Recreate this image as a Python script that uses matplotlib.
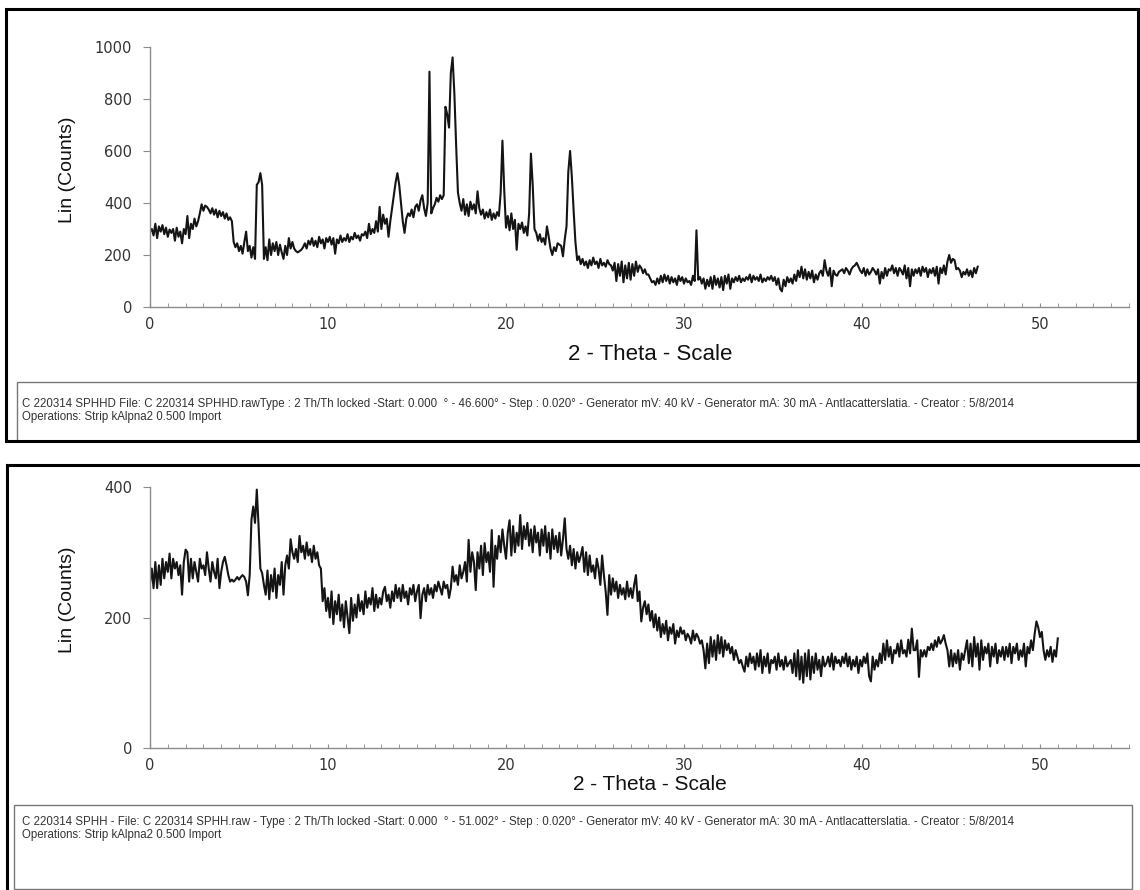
import matplotlib
matplotlib.use("Agg")
import matplotlib.pyplot as plt
import numpy as np
from matplotlib.lines import Line2D
from matplotlib.patches import Rectangle
from matplotlib.ticker import MultipleLocator

plt.rcParams["font.family"] = ["Liberation Sans", "DejaVu Sans"]

W, H = 1140, 890
THETA_STEP = 0.1

# SPHHD scan, counts every 0.1 deg starting at 0 (one row per degree)
sphhd_counts = [
    290, 300, 275, 320, 265, 310, 290, 315, 280, 305,
    270, 298, 285, 300, 255, 305, 270, 290, 245, 300,
    280, 350, 265, 320, 300, 340, 310, 330, 360, 395,
    370, 390, 385, 375, 360, 380, 355, 375, 345, 370,
    350, 365, 340, 360, 335, 345, 330, 250, 230, 245,
    215, 235, 205, 250, 290, 215, 235, 190, 230, 185,
    470, 480, 515, 470, 185, 230, 180, 260, 200, 245,
    215, 250, 200, 240, 210, 185, 235, 200, 265, 225,
    250, 225, 215, 210, 215, 220, 230, 245, 225, 255,
    240, 265, 235, 255, 230, 270, 245, 260, 225, 265,
    250, 270, 240, 265, 205, 260, 245, 275, 250, 265,
    255, 280, 250, 270, 260, 285, 265, 275, 255, 280,
    275, 290, 265, 320, 280, 300, 285, 330, 290, 385,
    300, 355, 320, 340, 270, 330, 380, 430, 480, 515,
    470, 400, 330, 285, 340, 360, 350, 375, 345, 385,
    395, 370, 410, 430, 380, 350, 400, 905, 360, 380,
    395, 420, 405, 430, 415, 430, 770, 740, 690, 900,
    960, 820, 620, 440, 400, 370, 415, 355, 395, 350,
    405, 375, 395, 360, 445, 380, 355, 375, 340, 365,
    345, 375, 335, 360, 340, 365, 350, 440, 640, 450,
    305, 350, 295, 360, 300, 335, 220, 320, 300, 325,
    285, 310, 275, 360, 590, 470, 300, 285, 255, 280,
    250, 265, 240, 310, 270, 225, 200, 230, 215, 245,
    240, 235, 195, 260, 310, 520, 600, 500, 370, 250,
    180, 195, 165, 185, 160, 175, 150, 180, 160, 190,
    165, 175, 150, 185, 160, 170, 155, 180, 165, 160,
    140, 170, 100, 165, 120, 175, 95, 160, 110, 170,
    105, 165, 120, 175, 135, 160, 150, 130, 145, 125,
    125, 110, 95, 100, 85, 110, 90, 120, 95, 125,
    100, 120, 90, 115, 95, 110, 85, 120, 100, 115,
    90, 110, 95, 100, 85, 120, 100, 295, 105, 115,
    90, 110, 70, 105, 80, 115, 70, 120, 85, 110,
    75, 115, 65, 120, 90, 125, 70, 110, 95, 115,
    100, 120, 95, 110, 100, 115, 105, 125, 95, 120,
    105, 115, 100, 125, 95, 110, 100, 115, 105, 120,
    100, 115, 85, 110, 70, 60, 105, 80, 115, 95,
    110, 90, 125, 100, 140, 115, 155, 110, 145, 105,
    135, 110, 140, 95, 125, 105, 130, 140, 120, 180,
    140, 120, 150, 80, 140, 125, 120, 135, 140, 145,
    130, 150, 140, 125, 145, 155, 160, 170, 155, 140,
    130, 150, 120, 145, 125, 135, 150, 140, 125, 145,
    90, 135, 110, 150, 120, 145, 140, 160, 130, 150,
    120, 150, 140, 125, 160, 110, 150, 80, 145, 120,
    145, 130, 150, 120, 155, 135, 150, 115, 145, 130,
    150, 120, 155, 90, 150, 130, 160, 125, 175, 200,
    170, 185, 180, 145, 150, 140, 115, 135, 125, 145,
    120, 140, 115, 150, 130, 155,
]

# SPHH scan, counts every 0.1 deg starting at 0 (one row per degree)
sphh_counts = [
    252, 275, 245, 285, 245, 280, 250, 290, 260, 285,
    270, 298, 260, 290, 275, 285, 265, 280, 235, 285,
    304, 300, 255, 290, 260, 285, 270, 255, 290, 275,
    280, 265, 300, 275, 255, 285, 270, 260, 290, 245,
    270, 285, 293, 280, 265, 255, 258, 255, 258, 262,
    258, 262, 265, 262, 255, 234, 265, 350, 370, 345,
    396, 340, 275, 268, 250, 235, 272, 228, 265, 240,
    275, 230, 265, 250, 285, 235, 280, 295, 275, 320,
    300, 290, 305, 285, 325, 300, 310, 290, 315, 295,
    305, 285, 310, 290, 300, 280, 275, 225, 245, 210,
    230, 200, 240, 190, 225, 205, 235, 195, 220, 185,
    225, 200, 176, 230, 195, 220, 200, 235, 210, 225,
    205, 240, 215, 230, 220, 245, 210, 235, 215, 230,
    220, 240, 247, 225, 235, 215, 240, 225, 250, 230,
    245, 225, 250, 230, 240, 220, 245, 235, 250, 225,
    240, 250, 199, 235, 245, 225, 250, 235, 245, 230,
    250, 240, 255, 245, 235, 255, 245, 250, 230, 245,
    278, 255, 265, 250, 280, 260, 270, 285, 255, 319,
    270, 300, 285, 242, 300, 275, 310, 265, 314, 285,
    300, 270, 334, 247, 310, 290, 325, 300, 335, 310,
    290, 330, 349, 295, 340, 300, 330, 310, 357, 305,
    340, 320, 345, 310, 335, 300, 340, 315, 330, 295,
    335, 310, 340, 300, 330, 290, 335, 305, 325, 300,
    330, 295, 320, 352, 305, 290, 310, 280, 305, 275,
    300, 285, 295, 308, 270, 300, 265, 295, 270, 280,
    260, 290, 275, 250, 295, 265, 240, 204, 265, 235,
    260, 240, 255, 230, 250, 235, 245, 228, 255, 232,
    245, 230, 250, 265, 225, 240, 194, 215, 225, 205,
    220, 195, 210, 185, 205, 180, 200, 170, 190, 175,
    195, 165, 185, 175, 190, 160, 180, 170, 185, 175,
    180, 165, 175, 170, 160, 180, 165, 175, 170, 160,
    165, 150, 122, 160, 130, 170, 140, 165, 135, 173,
    145, 170, 140, 165, 150, 160, 145, 155, 135, 150,
    140, 130, 135, 125, 117, 140, 125, 145, 130, 140,
    120, 145, 125, 150, 115, 140, 125, 145, 115, 135,
    130, 140, 120, 145, 125, 135, 120, 140, 125, 130,
    135, 115, 145, 110, 150, 105, 140, 100, 145, 110,
    150, 105, 140, 115, 145, 120, 135, 110, 140, 125,
    130, 140, 125, 145, 120, 140, 130, 135, 125, 140,
    130, 145, 125, 140, 120, 135, 125, 140, 115, 135,
    125, 140, 130, 145, 110, 102, 140, 120, 135, 125,
    145, 130, 160, 135, 165, 140, 155, 130, 150, 145,
    160, 140, 165, 145, 150, 140, 166, 145, 183, 150,
    150, 165, 109, 150, 140, 150, 140, 155, 150, 160,
    150, 165, 155, 170, 160, 165, 173, 160, 150, 125,
    150, 125, 145, 130, 150, 120, 145, 135, 150, 165,
    130, 160, 125, 170, 140, 160, 120, 165, 135, 155,
    145, 160, 125, 155, 140, 160, 130, 150, 140, 155,
    135, 155, 140, 160, 130, 155, 145, 160, 135, 150,
    140, 160, 125, 155, 145, 165, 150, 175, 194, 185,
    170, 178, 150, 135, 150, 140, 155, 132, 150, 140,
    168,
]

top_info = [
    "C 220314 SPHHD File: C 220314 SPHHD.rawType : 2 Th/Th locked -Start: 0.000  \u00b0 - 46.600\u00b0 - Step : 0.020\u00b0"
    " - Generator mV: 40 kV - Generator mA: 30 mA - Antlacatterslatia. - Creator : 5/8/2014",
    "Operations: Strip kAlpna2 0.500 Import",
]
bottom_info = [
    "C 220314 SPHH - File: C 220314 SPHH.raw - Type : 2 Th/Th locked -Start: 0.000  \u00b0 - 51.002\u00b0 - Step : 0.020\u00b0"
    " - Generator mV: 40 kV - Generator mA: 30 mA - Antlacatterslatia. - Creator : 5/8/2014",
    "Operations: Strip kAlpna2 0.500 Import",
]

x_label = "2 - Theta - Scale"
y_label = "Lin (Counts)"
narrow = ["Liberation Sans Narrow", "Liberation Sans", "DejaVu Sans"]


def fbox(left, top, right, bottom):
    # pixel box (origin top-left) -> figure fraction [l, b, w, h]
    return [left / W, 1 - bottom / H, (right - left) / W, (bottom - top) / H]


def fx(px):
    return px / W


def fy(py):
    return 1 - py / H


def draw_scan(fig, box, counts, y_max, y_step):
    ax = fig.add_axes(box)
    theta = np.arange(len(counts)) * THETA_STEP
    ax.plot(theta, counts, color="#141414", linewidth=1.5)
    ax.set_xlim(0, 55)
    ax.set_ylim(0, y_max)
    for side in ["top", "right"]:
        ax.spines[side].set_visible(False)
    for side in ["left", "bottom"]:
        ax.spines[side].set_color("#8c8c8c")
        ax.spines[side].set_linewidth(1.0)
    ax.xaxis.set_major_locator(MultipleLocator(10))
    ax.xaxis.set_minor_locator(MultipleLocator(1))
    ax.yaxis.set_major_locator(MultipleLocator(y_step))
    ax.tick_params(axis="x", which="both", direction="in", length=3, color="#8c8c8c",
                   labelsize=10.5, labelcolor="#333333", pad=7)
    ax.tick_params(axis="y", which="major", direction="out", length=5, color="#8c8c8c",
                   labelsize=10.5, labelcolor="#333333", pad=8)
    for lab in ax.get_xticklabels() + ax.get_yticklabels():
        lab.set_fontfamily("DejaVu Sans")
    ax.patch.set_alpha(0)
    return ax


fig = plt.figure(figsize=(W / 100, H / 100), dpi=100)

# top panel
draw_scan(fig, fbox(150, 47, 150 + 55 * 17.8, 307), sphhd_counts, 1000, 200)
fig.text(fx(68), fy(170), y_label, rotation=90, ha="center", va="center",
         fontsize=14, family=narrow, color="#111111")
fig.text(fx(650), fy(354), x_label, ha="center", va="center",
         fontsize=16, family=narrow, color="#111111")
fig.patches.append(Rectangle((fx(17), fy(441)), fx(1137) - fx(17), fy(382) - fy(441),
                             transform=fig.transFigure, fill=False, edgecolor="#777777", linewidth=1.0))
fig.text(fx(22), fy(404), top_info[0], ha="left", va="center", fontsize=8.3, color="#333333")
fig.text(fx(22), fy(417), top_info[1], ha="left", va="center", fontsize=8.3, color="#333333")
fig.patches.append(Rectangle((fx(6), fy(441)), fx(1138) - fx(6), fy(9) - fy(441),
                             transform=fig.transFigure, fill=False, edgecolor="black", linewidth=2.2))

# bottom panel
draw_scan(fig, fbox(150, 487, 150 + 55 * 17.8, 748), sphh_counts, 400, 200)
fig.text(fx(68), fy(600), y_label, rotation=90, ha="center", va="center",
         fontsize=14, family=narrow, color="#111111")
fig.text(fx(650), fy(785), x_label, ha="center", va="center",
         fontsize=15, family=narrow, color="#111111")
fig.patches.append(Rectangle((fx(14), fy(889)), fx(1132) - fx(14), fy(805) - fy(889),
                             transform=fig.transFigure, fill=False, edgecolor="#777777", linewidth=1.0))
fig.text(fx(22), fy(822), bottom_info[0], ha="left", va="center", fontsize=8.3, color="#333333")
fig.text(fx(22), fy(835), bottom_info[1], ha="left", va="center", fontsize=8.3, color="#333333")
fig.lines.append(Line2D([fx(7), fx(1140)], [fy(465), fy(465)], transform=fig.transFigure,
                        color="black", linewidth=2.2))
fig.lines.append(Line2D([fx(7), fx(7)], [fy(465), fy(890)], transform=fig.transFigure,
                        color="black", linewidth=2.2))

fig.savefig("out.png", dpi=100)
